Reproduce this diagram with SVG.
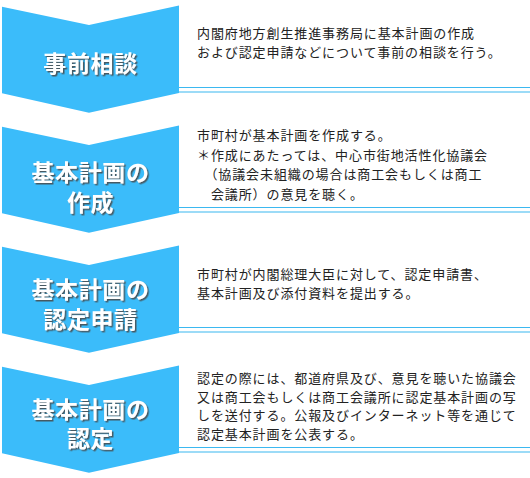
<svg xmlns="http://www.w3.org/2000/svg" width="530" height="478" viewBox="0 0 530 478">
<defs>
<style>
.chev{fill:#3bbcfa;}
.ln{stroke:#3bb8f0;stroke-width:1.2;fill:none;}
.t{font-family:"Noto Sans CJK JP","Noto Sans",sans-serif;font-weight:bold;font-size:23px;text-anchor:middle;letter-spacing:0.6px;fill:#ffffff;filter:url(#sh);}
.d{font-family:"Noto Sans CJK JP","Noto Sans",sans-serif;font-size:13px;fill:#222222;letter-spacing:0.9px;}
</style>
<filter id="sh" x="-10%" y="-30%" width="120%" height="160%">
<feDropShadow dx="1.5" dy="1.5" stdDeviation="0.6" flood-color="#4a4a4a" flood-opacity="0.85"/>
</filter>
<path id="chv" d="M2,6.7 L89,25 L179,5.5 L179,93 L89,112.7 L2,93.3 Z"/>
</defs>
<rect x="0" y="0" width="530" height="478" fill="#ffffff"/>
<g id="connectors">
<line class="ln" x1="179" y1="87.5" x2="530" y2="87.5"/>
<line class="ln" x1="179" y1="92" x2="530" y2="92"/>
<line class="ln" x1="179" y1="207.5" x2="530" y2="207.5"/>
<line class="ln" x1="179" y1="212" x2="530" y2="212"/>
<line class="ln" x1="179" y1="327.5" x2="530" y2="327.5"/>
<line class="ln" x1="179" y1="332" x2="530" y2="332"/>
<line class="ln" x1="179" y1="447.5" x2="530" y2="447.5"/>
<line class="ln" x1="179" y1="452" x2="530" y2="452"/>
</g>
<g id="step1">
<use href="#chv" class="chev"/>
<text class="t" x="90.5" y="72">事前相談</text>
<text class="d" x="197" y="38">内閣府地方創生推進事務局に基本計画の作成</text>
<text class="d" x="197" y="57">および認定申請などについて事前の相談を行う。</text>
</g>
<g id="step2">
<use href="#chv" class="chev" y="120"/>
<text class="t"><tspan x="90.5" y="180.5">基本計画の</tspan><tspan x="90.5" y="211">作成</tspan></text>
<text class="d" x="197" y="140">市町村が基本計画を作成する。</text>
<text class="d" x="197" y="159.5">＊作成にあたっては、中心市街地活性化協議会</text>
<text class="d" x="197" y="179">　（協議会未組織の場合は商工会もしくは商工</text>
<text class="d" x="197" y="198.5">　会議所）の意見を聴く。</text>
</g>
<g id="step3">
<use href="#chv" class="chev" y="240"/>
<text class="t"><tspan x="90.5" y="298">基本計画の</tspan><tspan x="90.5" y="328">認定申請</tspan></text>
<text class="d" x="197" y="279">市町村が内閣総理大臣に対して、認定申請書、</text>
<text class="d" x="197" y="298">基本計画及び添付資料を提出する。</text>
</g>
<g id="step4">
<use href="#chv" class="chev" y="360"/>
<text class="t"><tspan x="90.5" y="418">基本計画の</tspan><tspan x="90.5" y="447">認定</tspan></text>
<text class="d" x="197" y="383">認定の際には、都道府県及び、意見を聴いた協議会</text>
<text class="d" x="197" y="401.5">又は商工会もしくは商工会議所に認定基本計画の写</text>
<text class="d" x="197" y="420">しを送付する。公報及びインターネット等を通じて</text>
<text class="d" x="197" y="438.5">認定基本計画を公表する。</text>
</g>
</svg>
